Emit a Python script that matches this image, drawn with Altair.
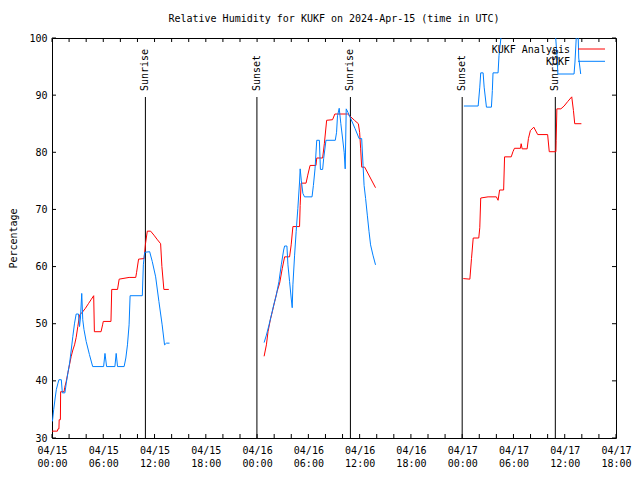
import json
import altair as alt
import numpy as np
import pandas as pd

FONT = "DejaVu Sans Mono"
W, H = 564, 400

title_text = "Relative Humidity for KUKF on 2024-Apr-15 (time in UTC)"
series_names = ["KUKF Analysis", "KUKF"]
series_colors = ["#ff0000", "#0080ff"]

# hours since 2024-04-15 00:00 UTC
red_hours = [0.0, 0.63, 0.70, 0.81, 0.84, 0.98, 1.01, 1.42, 1.48, 1.65, 1.86, 2.06, 2.25, 2.44,
             2.64, 2.83, 3.02, 3.22, 3.60, 3.91, 4.26, 4.61, 4.88, 4.96, 5.74, 5.92, 6.00, 6.90,
             6.99, 7.67, 7.86, 9.02, 9.80, 9.90, 10.13, 10.77, 10.94, 11.15, 11.54, 11.93, 12.28,
             12.71, 12.86, 13.09, 13.67,
             24.82, 25.09, 25.28, 25.55, 25.78, 26.06, 26.33, 26.64, 26.95, 27.22, 27.80, 27.99,
             28.19, 28.97, 29.04, 29.15, 29.73, 29.93, 30.20, 30.89, 30.98, 31.67, 31.87, 32.14,
             32.83, 33.10, 34.58, 34.96, 35.39, 35.85, 36.00, 36.12, 36.24, 36.59, 37.86,
             48.13, 48.90, 49.09, 49.29, 49.94, 50.06, 50.17, 51.03, 52.00, 52.20, 52.38, 52.85,
             52.96, 53.74, 53.94, 54.12, 54.82, 54.90, 55.02, 55.60, 55.75, 55.98, 56.38, 56.84,
             58.00, 58.19, 58.97, 59.00, 59.08, 59.55, 59.93, 60.36, 60.82, 61.02, 61.17, 61.95]
red_values = [31.2, 31.2, 31.6, 31.6, 33.2, 33.2, 38.1, 38.1, 38.8, 39.8, 41.4, 42.9, 44.3, 45.4,
              46.3, 47.6, 49.5, 51.5, 52.1, 52.7, 53.5, 54.3, 54.9, 48.6, 48.6, 49.8, 50.4, 50.4,
              56.0, 56.0, 57.8, 58.1, 58.1, 59.0, 61.3, 61.4, 64.0, 66.2, 66.2, 65.5, 64.8,
              64.0, 60.0, 56.0, 56.0,
              44.3, 46.3, 48.6, 50.7, 52.1, 53.9, 55.6, 57.1, 59.7, 61.7, 61.7, 63.8,
              67.0, 67.0, 70.7, 74.6, 74.6, 76.0, 77.7, 77.7, 79.0, 79.0, 81.5, 85.6,
              85.7, 86.7, 86.7, 86.2, 85.6, 85.0, 83.5, 80.6, 77.4, 77.4, 73.8,
              57.9, 57.8, 61.4, 65.0, 65.0, 66.8, 72.0, 72.2, 72.2, 71.6, 73.4, 73.4,
              79.2, 79.2, 80.1, 80.7, 80.7, 81.5, 80.6, 80.6, 82.4, 83.8, 84.4, 83.1,
              83.1, 80.1, 80.1, 82.1, 87.6, 87.6, 88.1, 88.9, 89.7, 87.3, 85.0, 85.0]

blue_hours = [0.05, 0.20, 0.37, 0.51, 0.70, 0.81, 1.09, 1.21, 1.51, 1.67, 1.86, 2.06, 2.25, 2.44,
              2.64, 2.83, 3.10, 3.22, 3.33, 3.48, 3.60, 3.74, 4.00, 4.38, 4.76, 6.04, 6.20, 6.39,
              7.36, 7.51, 7.67, 8.44, 8.64, 8.83, 9.02, 9.14, 10.57, 10.69, 10.85, 11.43, 11.73,
              12.13, 12.51, 12.89, 13.17, 13.40, 13.75,
              24.82, 25.09, 25.40, 25.67, 25.95, 26.25, 26.56, 26.83, 27.11, 27.22, 27.49, 27.61,
              27.80, 27.99, 28.11, 28.19, 28.39, 28.57, 28.77, 28.97, 29.04, 29.18, 29.36, 29.55,
              30.43, 30.59, 30.78, 30.98, 31.29, 31.41, 31.67, 31.79, 32.06, 33.15, 33.30, 33.41,
              33.61, 33.80, 34.00, 34.19, 34.31, 34.43, 34.63, 34.96, 35.45, 35.94, 36.24, 36.40,
              36.52, 36.70, 36.90, 37.10, 37.28, 37.56, 37.86,
              48.20, 49.87, 50.06, 50.17, 50.45, 50.57, 50.84, 51.42, 51.53, 51.61, 52.20, 52.31,
              52.64, 54.00, 56.50, 58.90, 59.11, 59.20, 61.09, 61.20, 61.40, 61.55, 61.64, 61.87]
blue_values = [32.9, 35.0, 37.0, 38.5, 39.6, 40.2, 40.2, 37.9, 37.9, 39.6, 41.4, 43.1, 45.4, 47.8,
               50.1, 51.7, 51.7, 49.5, 51.0, 55.3, 50.7, 49.0, 46.9, 44.6, 42.5, 42.5, 44.8, 42.5,
               42.5, 44.8, 42.5, 42.5, 44.0, 46.3, 49.8, 54.9, 54.9, 60.3, 62.5, 62.6, 60.9,
               58.2, 53.9, 49.8, 46.3, 46.6, 46.6,
               46.7, 48.0, 49.8, 51.5, 53.3, 55.0, 57.4, 60.3, 62.9, 63.6, 63.6, 60.3,
               57.4, 54.5, 52.8, 56.8, 62.0, 66.1, 70.2, 74.8, 77.1, 75.0, 72.8, 72.2,
               72.2, 74.2, 77.1, 82.1, 82.1, 77.0, 77.0, 78.9, 82.1, 82.1, 83.5, 86.4,
               87.7, 85.0, 82.5, 80.0, 77.1, 87.6, 87.0, 85.9, 84.2, 82.4, 82.4, 77.7,
               74.2, 71.9, 69.0, 66.1, 63.8, 62.0, 60.3,
               88.1, 88.1, 91.4, 93.9, 93.9, 91.4, 87.9, 87.9, 90.8, 93.9, 93.9, 96.9,
               101.5, 102.5, 102.5, 101.0, 96.5, 93.7, 93.7, 95.8, 101.5, 101.5, 96.5, 93.7]

sun_hours = [10.93, 23.98, 34.92, 48.00, 58.90]
sun_labels = ["Sunrise", "Sunset", "Sunrise", "Sunset", "Sunrise"]

x_label_hours = list(range(0, 67, 6))
x_label_dates = ["04/15", "04/15", "04/15", "04/15", "04/16", "04/16", "04/16", "04/16",
                 "04/17", "04/17", "04/17", "04/17"]
x_label_times = ["00:00", "06:00", "12:00", "18:00"] * 3
x_tick_hours = list(range(0, 67, 2))
y_tick_values = list(range(30, 101, 10))

label_expr = (f"[{json.dumps(x_label_dates)}[round(datum.value/6)], "
              f"{json.dumps(x_label_times)}[round(datum.value/6)]]")

x_scale = alt.Scale(domain=[0, 66], nice=False, zero=False)
y_scale = alt.Scale(domain=[30, 100], nice=False, zero=False)
x_axis = alt.Axis(values=x_label_hours, labelExpr=label_expr, ticks=False, domain=False,
                  grid=False, labelFlush=False, labelOverlap=False, labelPadding=7,
                  labelLineHeight=13, labelFont=FONT, labelFontSize=10, labelColor="black")
y_axis = alt.Axis(values=y_tick_values, ticks=False, domain=False, grid=False,
                  labelPadding=5, labelFont=FONT, labelFontSize=10, labelColor="black",
                  titleFont=FONT, titleFontSize=10, titleFontWeight="normal", titleColor="black",
                  titleAngle=270, titleX=-39, titleY=H / 2, titleAlign="center",
                  titleBaseline="middle")

X = alt.X("hour:Q", scale=x_scale, axis=x_axis, title=None)
Y = alt.Y("rh:Q", scale=y_scale, axis=y_axis, title="Percentage")


def series_df(hours, values):
    d = pd.DataFrame({"hour": hours, "rh": values})
    d["seg"] = (d["hour"].diff() > 3).cumsum()
    return d


layers = []

sun_df = pd.DataFrame({"hour": sun_hours, "label": sun_labels})
layers.append(alt.Chart(sun_df).mark_rule(color="black", strokeWidth=1).encode(
    x=X, y=alt.value(H), y2=alt.value(59)))
layers.append(alt.Chart(sun_df).mark_text(
    angle=270, align="left", baseline="middle", font=FONT, fontSize=10, color="black"
).encode(x=X, y=alt.value(53), text="label:N"))

for hrs, vals, col in [(red_hours, red_values, series_colors[0]),
                       (blue_hours, blue_values, series_colors[1])]:
    layers.append(alt.Chart(series_df(hrs, vals)).mark_line(
        color=col, strokeWidth=1, clip=True).encode(
        x=X, y=Y, detail="seg:N", order="hour:Q"))

yt = pd.DataFrame({"rh": y_tick_values})
layers.append(alt.Chart(yt).mark_rule(color="black").encode(
    y=Y, x=alt.value(0), x2=alt.value(4)))
layers.append(alt.Chart(yt).mark_rule(color="black").encode(
    y=Y, x=alt.value(W - 4), x2=alt.value(W)))
xt = pd.DataFrame({"hour": x_tick_hours})
layers.append(alt.Chart(xt).mark_rule(color="black").encode(
    x=X, y=alt.value(H), y2=alt.value(H - 4)))
layers.append(alt.Chart(xt).mark_rule(color="black").encode(
    x=X, y=alt.value(0), y2=alt.value(4)))

for i, (name, col) in enumerate(zip(series_names, series_colors)):
    ld = pd.DataFrame({"name": [name]})
    yy = 11.5 + 12.3 * i
    layers.append(alt.Chart(ld).mark_text(
        align="right", baseline="middle", font=FONT, fontSize=10, color="black"
    ).encode(x=alt.value(W - 46), y=alt.value(yy), text="name:N"))
    layers.append(alt.Chart(ld).mark_rule(color=col, strokeWidth=1).encode(
        x=alt.value(W - 38), x2=alt.value(W - 11), y=alt.value(yy - 0.5)))

chart = alt.layer(*layers).properties(
    width=W, height=H,
    autosize=alt.AutoSizeParams(type="none"),
    padding={"left": 44, "top": 30, "right": 16, "bottom": 30},
    background="white",
    title=alt.TitleParams(title_text, font=FONT, fontSize=10, fontWeight="normal",
                          color="black", anchor="middle", offset=9),
).configure_view(stroke="black", strokeWidth=1)

chart.save("out.html", embed_options={"renderer": "svg", "actions": False})
